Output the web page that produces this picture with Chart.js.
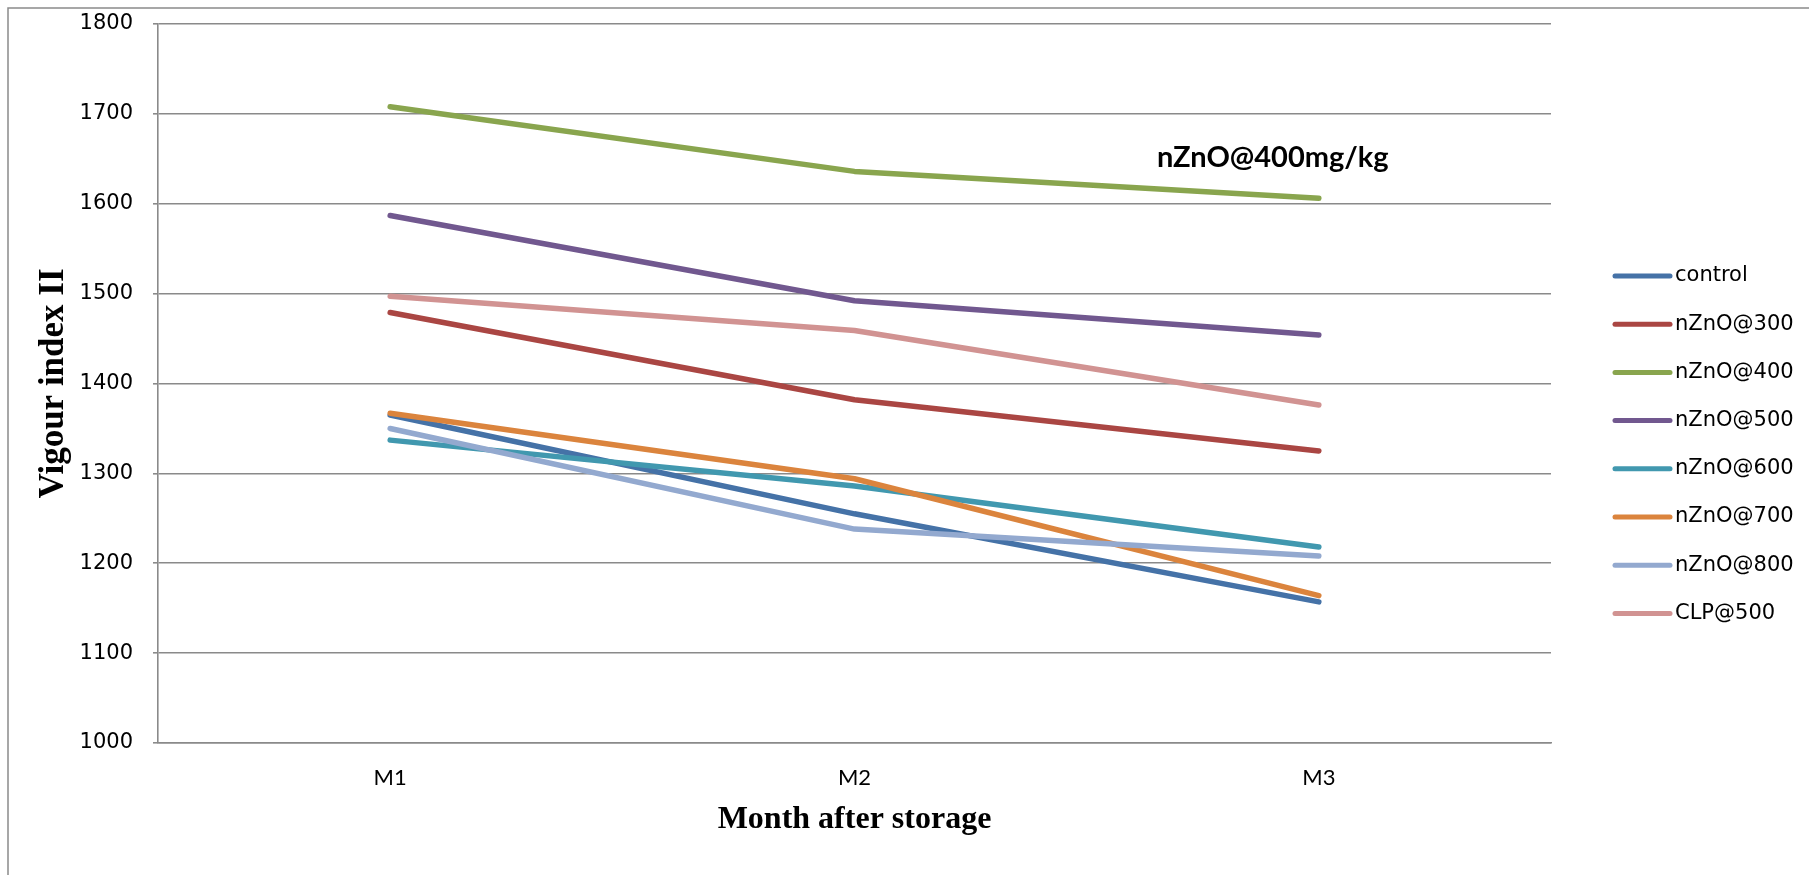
<!DOCTYPE html>
<html>
<head>
<meta charset="utf-8">
<title>Vigour index II by month after storage</title>
<script src="https://cdn.jsdelivr.net/npm/chart.js@4/dist/chart.umd.min.js"></script>
<style>
  html, body { margin: 0; padding: 0; background: #ffffff; }
  #wrap { width: 1809px; height: 875px; position: relative; }
  canvas { display: block; }
</style>
</head>
<body>
<div id="wrap"><canvas id="chart" width="1809" height="875"></canvas></div>
<script>
// Months after storage (categories)
const months = ['M1', 'M2', 'M3'];

// Vigour index II per treatment
const control  = [1365, 1255, 1157];
const nZnO300  = [1479, 1382, 1325];
const nZnO400  = [1708, 1636, 1606];
const nZnO500  = [1587, 1492, 1454];
const nZnO600  = [1337, 1286, 1218];
const nZnO700  = [1367, 1294, 1164];
const nZnO800  = [1350, 1238, 1208];
const clp500   = [1497, 1459, 1376];

// Series names and colours, in legend order
const seriesNames  = ['control', 'nZnO@300', 'nZnO@400', 'nZnO@500', 'nZnO@600', 'nZnO@700', 'nZnO@800', 'CLP@500'];
const seriesValues = [control, nZnO300, nZnO400, nZnO500, nZnO600, nZnO700, nZnO800, clp500];
const seriesColors = ['#4572A7', '#AA4643', '#89A54E', '#71588F', '#4198AF', '#DB843D', '#93A9CF', '#D19392'];

// Value axis range
const yMin = 1000, yMax = 1800, yStep = 100;

// Callout text next to the best treatment
const calloutText = 'nZnO@400mg/kg';
const calloutSeries = 2;

const GRID = '#8a8a8a';

const datasets = seriesNames.map((name, i) => ({
  label: name,
  data: seriesValues[i],
  borderColor: seriesColors[i],
  backgroundColor: seriesColors[i],
  borderWidth: 5.5,
  borderCapStyle: 'round',
  borderJoinStyle: 'round',
  pointRadius: 0,
  pointHoverRadius: 0,
  tension: 0,
  fill: false,
  order: -i            // later series are painted over earlier ones
}));

// Outer frame of the chart object
const framePlugin = {
  id: 'frame',
  beforeDraw(chart) {
    const ctx = chart.ctx;
    ctx.save();
    ctx.strokeStyle = '#8a8a8a';
    ctx.lineWidth = 1.5;
    ctx.beginPath();
    ctx.moveTo(8, chart.height);
    ctx.lineTo(8, 8);
    ctx.lineTo(chart.width, 8);
    ctx.stroke();
    ctx.restore();
  }
};

// Legend on the right: short line swatch plus series name
const sideLegend = {
  id: 'sideLegend',
  afterDraw(chart) {
    const ctx = chart.ctx;
    const x0 = 1615, x1 = 1670, tx = 1675;
    const yFirst = 276, gap = 48.2;
    ctx.save();
    ctx.font = '21px "DejaVu Sans"';
    ctx.textAlign = 'left';
    ctx.textBaseline = 'middle';
    chart.data.datasets.forEach((ds, i) => {
      const y = yFirst + i * gap;
      ctx.strokeStyle = ds.borderColor;
      ctx.lineWidth = 5;
      ctx.lineCap = 'round';
      ctx.beginPath();
      ctx.moveTo(x0, y);
      ctx.lineTo(x1, y);
      ctx.stroke();
      ctx.fillStyle = '#000000';
      ctx.fillText(ds.label, tx, y);
    });
    ctx.restore();
  }
};

// Callout placed above the last point of the highlighted series
const callout = {
  id: 'callout',
  afterDatasetsDraw(chart) {
    const xs = chart.scales.x, ys = chart.scales.y;
    const last = seriesValues[calloutSeries].length - 1;
    const x = xs.getPixelForValue(last) - 46;
    const y = ys.getPixelForValue(seriesValues[calloutSeries][last]) - 41;
    const ctx = chart.ctx;
    ctx.save();
    ctx.font = 'bold 29px Lato';
    ctx.fillStyle = '#000000';
    ctx.textAlign = 'center';
    ctx.textBaseline = 'middle';
    ctx.fillText(calloutText, x, y);
    ctx.restore();
  }
};

new Chart(document.getElementById('chart'), {
  type: 'line',
  data: { labels: months, datasets },
  options: {
    responsive: false,
    animation: false,
    devicePixelRatio: 1,
    layout: { padding: { top: 24, right: 258, bottom: 0, left: 0 } },
    plugins: {
      legend: { display: false },
      tooltip: { enabled: false },
      title: { display: false }
    },
    scales: {
      x: {
        type: 'category',
        offset: true,
        grid: { display: false, drawTicks: false },
        border: { display: true, color: GRID, width: 1.6 },
        ticks: {
          color: '#000000',
          font: { family: 'Lato', size: 22 },
          padding: 22,
          maxRotation: 0
        },
        title: {
          display: true,
          text: 'Month after storage',
          color: '#000000',
          font: { family: '"Liberation Serif"', size: 32, weight: 'bold' },
          padding: { top: 0, bottom: 36 }
        },
        afterFit(scale) { scale.height = 132; }
      },
      y: {
        min: yMin,
        max: yMax,
        ticks: {
          stepSize: yStep,
          color: '#000000',
          font: { family: '"DejaVu Sans"', size: 21 },
          padding: 20,
          callback: (v) => String(v)
        },
        grid: { color: GRID, lineWidth: 1.6, tickLength: 5, tickColor: GRID, drawTicks: true },
        border: { display: true, color: GRID, width: 1.6 },
        title: {
          display: true,
          text: 'Vigour index II',
          color: '#000000',
          font: { family: '"Liberation Serif"', size: 35, weight: 'bold' },
          padding: { top: 33, bottom: 0 }
        },
        afterFit(scale) {
          scale.width = 158;
          scale.paddingTop = 0;
          scale.paddingBottom = 0;
        }
      }
    }
  },
  plugins: [framePlugin, sideLegend, callout]
});
</script>
</body>
</html>
